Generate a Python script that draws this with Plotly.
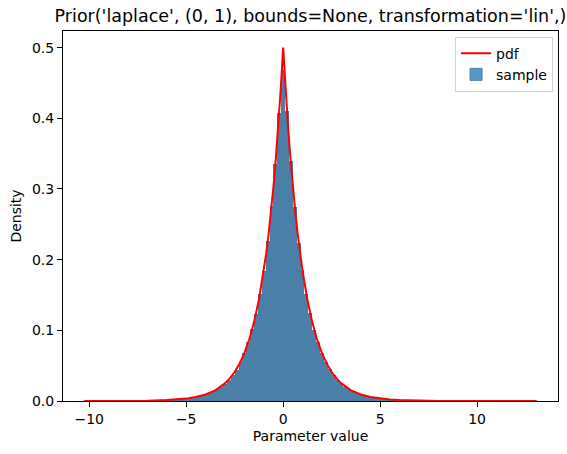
import plotly.graph_objects as go

# Histogram (density) of the sample: bins of width 0.2, first bin centred at -10.0
bin_first_center = -10.0
bin_width = 0.2
density = [
    0.00003, 0, 0.00003, 0, 0.00005, 0.00005, 0.00008, 0.0001, 0.0001, 0.00015,
    0.00018, 0.0002, 0.00026, 0.0003, 0.00036, 0.00045, 0.00057, 0.00068, 0.00085, 0.001,
    0.0013, 0.0015, 0.0018, 0.0023, 0.0028, 0.0034, 0.0041, 0.005, 0.0062, 0.0075,
    0.0092, 0.0111, 0.0136, 0.0168, 0.0200, 0.0242, 0.0296, 0.0362, 0.0445, 0.0549,
    0.0676, 0.0833, 0.1012, 0.1228, 0.1510, 0.1845, 0.2270, 0.2760, 0.3360, 0.4080,
    0.4680, 0.4110, 0.3390, 0.2750, 0.2240, 0.1850, 0.1515, 0.1240, 0.1005, 0.0830,
    0.0680, 0.0552, 0.0450, 0.0372, 0.0302, 0.0250, 0.0200, 0.0166, 0.0138, 0.0111,
    0.0093, 0.0075, 0.0061, 0.0050, 0.0042, 0.0036, 0.0028, 0.0022, 0.0018, 0.0015,
    0.0012, 0.001, 0.0008, 0.0007, 0.00055, 0.00046, 0.00038, 0.0003, 0.00025, 0.0002,
    0.00017, 0.00014, 0.0001, 0.0001, 0.00008, 0.00006, 0.00005, 0.00003, 0.00003, 0.00003,
    0.00002, 0, 0.00002, 0, 0.00002, 0, 0, 0.00002, 0, 0,
    0, 0, 0, 0, 0, 0.00002,
]
bin_centers = [round(bin_first_center + i * bin_width, 4) for i in range(len(density))]

# pdf curve samples
pdf_x = [-10.26, -9, -8, -7, -6, -5.5, -5, -4.5, -4, -3.5, -3, -2.75, -2.5, -2.25, -2,
         -1.75, -1.5, -1.25, -1, -0.875, -0.75, -0.625, -0.5, -0.375, -0.25, -0.125, 0,
         0.125, 0.25, 0.375, 0.5, 0.625, 0.75, 0.875, 1, 1.25, 1.5, 1.75, 2, 2.25, 2.5,
         2.75, 3, 3.5, 4, 4.5, 5, 5.5, 6, 7, 8, 9, 10, 11, 13.05]
pdf_y = [0.00002, 0.00006, 0.00017, 0.00046, 0.00124, 0.00204, 0.00337, 0.00555, 0.00916,
         0.0151, 0.0249, 0.0320, 0.0410, 0.0527, 0.0677, 0.0869, 0.1116, 0.1433, 0.1839,
         0.2084, 0.2362, 0.2676, 0.3033, 0.3436, 0.3894, 0.4412, 0.5,
         0.4412, 0.3894, 0.3436, 0.3033, 0.2676, 0.2362, 0.2084, 0.1839, 0.1433, 0.1116,
         0.0869, 0.0677, 0.0527, 0.0410, 0.0320, 0.0249, 0.0151, 0.00916, 0.00555, 0.00337,
         0.00204, 0.00124, 0.00046, 0.00017, 0.00006, 0.00002, 0.000008, 0.000001]

x_ticks = [-10, -5, 0, 5, 10]
x_tick_text = ["\u221210", "\u22125", "0", "5", "10"]
y_ticks = [0.0, 0.1, 0.2, 0.3, 0.4, 0.5]
y_tick_text = ["0.0", "0.1", "0.2", "0.3", "0.4", "0.5"]

title = "Prior('laplace', (0, 1), bounds=None, transformation='lin',)"

FONT = "DejaVu Sans"

fig = go.Figure()
fig.add_trace(go.Bar(
    x=bin_centers, y=density, width=bin_width,
    marker=dict(color="#4a80a8", line=dict(width=0)),
    name="sample", showlegend=False,
))
# legend entry for the sample (lighter patch as in the reference)
fig.add_trace(go.Bar(
    x=[None], y=[None], name="sample",
    marker=dict(color="#5799c7", line=dict(color="#4a80a8", width=1)),
    legendrank=2,
))
fig.add_trace(go.Scatter(
    x=pdf_x, y=pdf_y, mode="lines", name="pdf",
    line=dict(color="red", width=2), legendrank=1,
))

fig.update_layout(
    width=567, height=454,
    margin=dict(l=63, r=9, t=31, b=53),
    paper_bgcolor="white", plot_bgcolor="white",
    bargap=0,
    font=dict(family=FONT, size=14, color="black"),
    title=dict(text=title, x=0.5, xref="paper", xanchor="center",
               y=1 - 16 / 454, yref="container", yanchor="middle",
               font=dict(family=FONT, size=17.5, color="black")),
    legend=dict(x=0.99, y=0.985, xanchor="right", yanchor="top",
                bgcolor="rgba(255,255,255,0.8)", bordercolor="#d0d0d0", borderwidth=1,
                font=dict(family=FONT, size=14), tracegroupgap=2),
    xaxis=dict(range=[-11.35, 14.17], tickvals=x_ticks, ticktext=x_tick_text,
               showline=True, mirror=True, linecolor="black", linewidth=1,
               ticks="outside", ticklen=5, tickcolor="black", showgrid=False,
               zeroline=False, title=dict(text="Parameter value", standoff=5,
                                          font=dict(family=FONT, size=14))),
    yaxis=dict(range=[0, 0.5235], tickvals=y_ticks, ticktext=y_tick_text,
               showline=True, mirror=True, linecolor="black", linewidth=1,
               ticks="outside", ticklen=5, tickcolor="black", showgrid=False,
               zeroline=False, title=dict(text="Density", standoff=7,
                                          font=dict(family=FONT, size=14))),
)

fig.write_html("out.html")
